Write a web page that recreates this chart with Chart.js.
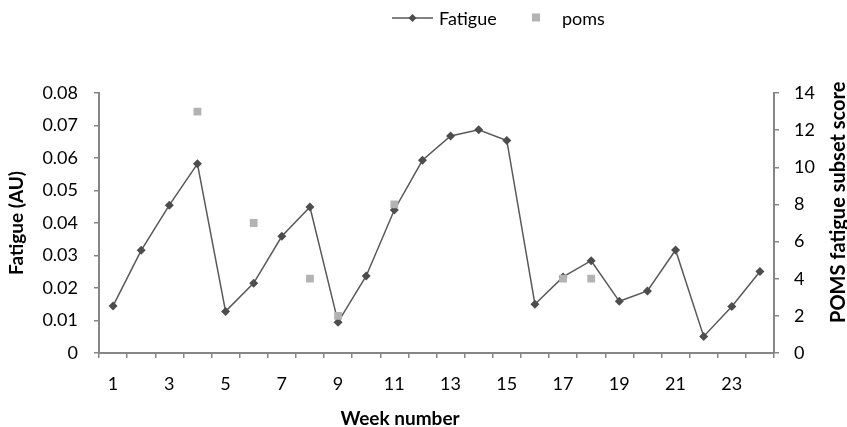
<!DOCTYPE html>
<html>
<head>
<meta charset="utf-8">
<script src="https://cdn.jsdelivr.net/npm/chart.js@4.4.1/dist/chart.umd.min.js"></script>
<style>
    body { margin: 0; background: #fff; }
    #grafico { display: block; }
</style>
</head>
<body>
<canvas id="grafico" width="847" height="427"></canvas>
<script>
const semanas = ['1', '2', '3', '4', '5', '6', '7', '8', '9', '10', '11', '12',
    '13', '14', '15', '16', '17', '18', '19', '20', '21', '22', '23', '24'];
const fatiga = [0.0145, 0.0316, 0.0455, 0.0582, 0.0128, 0.0215, 0.0359, 0.0449,
    0.0095, 0.0237, 0.0440, 0.0593, 0.0668, 0.0687, 0.0654, 0.0150,
    0.0234, 0.0284, 0.0159, 0.0191, 0.0317, 0.0051, 0.0143, 0.0251];
const poms = [null, null, null, 13, null, 7, null, 4, 2, null, 8, null,
    null, null, null, null, 4, 4, null, null, null, null, null, null];

const fuente = 'Lato, "Open Sans", sans-serif';
const gris = '#868686';

// leyenda y titulos dibujados a mano (como en Excel)
const extras = {
    id: 'extras',
    afterDraw(chart) {
        const ctx = chart.ctx;
        ctx.save();
        ctx.font = '18px ' + fuente;
        ctx.textBaseline = 'middle';
        // Fatigue
        ctx.strokeStyle = '#595959';
        ctx.lineWidth = 1.5;
        ctx.beginPath();
        ctx.moveTo(392, 18);
        ctx.lineTo(433, 18);
        ctx.stroke();
        ctx.fillStyle = '#4d4d4d';
        ctx.beginPath();
        ctx.moveTo(412.5, 14);
        ctx.lineTo(416.5, 18);
        ctx.lineTo(412.5, 22);
        ctx.lineTo(408.5, 18);
        ctx.closePath();
        ctx.fill();
        ctx.fillStyle = '#000';
        ctx.fillText('Fatigue', 439, 19);
        // poms
        ctx.fillStyle = '#b3b3b3';
        ctx.fillRect(532, 13.5, 8, 8);
        ctx.fillStyle = '#000';
        ctx.fillText('poms', 562, 19);
        // titulo eje x
        ctx.font = 'bold 19px ' + fuente;
        ctx.textAlign = 'center';
        ctx.fillText('Week number', 400, 419);
        // titulo eje derecho
        ctx.font = 'bold 20px ' + fuente;
        ctx.translate(839, 323);
        ctx.rotate(-Math.PI / 2);
        ctx.textAlign = 'left';
        ctx.fillText('POMS fatigue subset score', 0, 0);
        ctx.restore();
    }
};

const ctx = document.getElementById('grafico').getContext('2d');
new Chart(ctx, {
    type: 'line',
    data: {
        labels: semanas,
        datasets: [{
            label: 'Fatigue',
            data: fatiga,
            yAxisID: 'y',
            borderColor: '#595959',
            borderWidth: 1.5,
            backgroundColor: '#4d4d4d',
            pointStyle: 'rectRot',
            pointRadius: 4.5,
            pointBorderWidth: 0,
            tension: 0,
            order: 2
        }, {
            label: 'poms',
            data: poms,
            yAxisID: 'y1',
            showLine: false,
            backgroundColor: '#b3b3b3',
            borderColor: '#b3b3b3',
            pointStyle: 'rect',
            pointRadius: 5.5,
            pointBorderWidth: 0,
            order: 1
        }]
    },
    options: {
        responsive: false,
        animation: false,
        layout: { padding: { top: 93 } },
        plugins: {
            legend: { display: false },
            tooltip: { enabled: false }
        },
        scales: {
            x: {
                offset: true,
                grid: { offset: true, drawOnChartArea: false, color: gris, tickLength: 5, lineWidth: 1.5 },
                border: { color: gris, width: 2 },
                ticks: {
                    color: '#000',
                    font: { family: fuente, size: 18 },
                    padding: 15,
                    maxRotation: 0,
                    autoSkip: false,
                    callback: function(val, i) { return i % 2 === 0 ? semanas[i] : ''; }
                },
                afterFit: function(scale) { scale.height = 74; }
            },
            y: {
                position: 'left',
                min: 0,
                max: 0.08,
                grid: { drawOnChartArea: false, color: gris, tickLength: 5, lineWidth: 1.5 },
                border: { color: gris, width: 2 },
                ticks: {
                    stepSize: 0.01,
                    color: '#000',
                    font: { family: fuente, size: 18 },
                    padding: 16,
                    callback: function(v) { return v === 0 ? '0' : v.toFixed(2); }
                },
                title: {
                    display: true,
                    text: 'Fatigue (AU)',
                    color: '#000',
                    font: { family: fuente, size: 19, weight: 'bold' },
                    padding: { top: 5, bottom: 0 }
                },
                afterFit: function(scale) { scale.width = 99; }
            },
            y1: {
                position: 'right',
                min: 0,
                max: 14,
                grid: { drawOnChartArea: false, color: gris, tickLength: 5, lineWidth: 1.5 },
                border: { color: gris, width: 2 },
                ticks: {
                    stepSize: 2,
                    color: '#000',
                    font: { family: fuente, size: 18 },
                    padding: 15
                },
                afterFit: function(scale) { scale.width = 73; }
            }
        }
    },
    plugins: [extras]
});
</script>
</body>
</html>
